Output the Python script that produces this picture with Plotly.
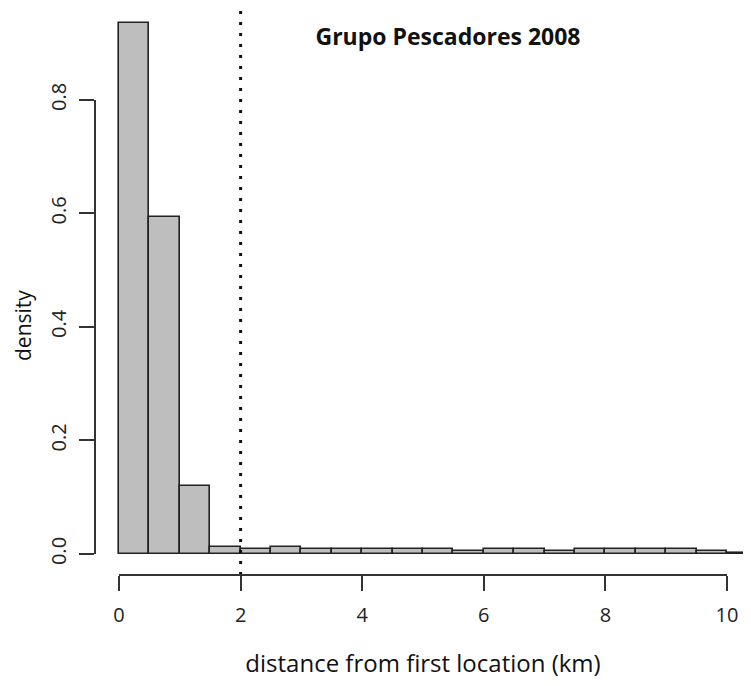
import plotly.graph_objects as go

# Histogramm-Daten (Dichte pro 0.5-km-Klasse)
bin_left = [0.0, 0.5, 1.0, 1.5, 2.0, 2.5, 3.0, 3.5, 4.0, 4.5, 5.0,
            5.5, 6.0, 6.5, 7.0, 7.5, 8.0, 8.5, 9.0, 9.5, 10.0]
density = [0.936, 0.593, 0.120, 0.013, 0.009, 0.013, 0.009, 0.009, 0.009, 0.009, 0.009,
           0.005, 0.009, 0.009, 0.005, 0.009, 0.009, 0.009, 0.009, 0.005, 0.002]
bin_width = 0.5

x_ticks = [0, 2, 4, 6, 8, 10]
y_ticks = [0.0, 0.2, 0.4, 0.6, 0.8]
y_tick_text = ["0.0", "0.2", "0.4", "0.6", "0.8"]
cutoff_km = 2

font_main = "Open Sans"
axis_col = "#333333"

# Seite hat 8px Body-Rand -> Figur etwas kleiner
W, H = 743, 678
ML, MB = 87, 111

fig = go.Figure()
fig.add_trace(go.Bar(
    x=bin_left, y=density, width=bin_width, offset=0,
    marker=dict(color="#bebebe", line=dict(color="#222222", width=1.6)),
    showlegend=False, hoverinfo="x+y"))

# gepunktete Linie bei 2 km
fig.add_shape(type="line", xref="x", yref="paper", x0=cutoff_km, x1=cutoff_km, y0=0, y1=1,
              line=dict(color="#111111", width=3, dash="3px,8px"))

# R-Stil Achsenlinien (nur von erstem bis letztem Tick)
fig.add_shape(type="line", xref="x", yref="paper", x0=x_ticks[0], x1=x_ticks[-1], y0=0, y1=0,
              line=dict(color=axis_col, width=2))
fig.add_shape(type="line", xref="paper", yref="y", x0=0, x1=0, y0=y_ticks[0], y1=y_ticks[-1],
              line=dict(color=axis_col, width=2))

# y-Achsentitel als Annotation
fig.add_annotation(text="density", xref="paper", yref="paper",
                   x=(15 - ML) / (W - ML), y=(H - MB - 318) / (H - MB),
                   textangle=-90, showarrow=False, xanchor="center", yanchor="middle",
                   font=dict(family=font_main, size=21, color="#111111"))

fig.update_layout(
    width=W, height=H,
    margin=dict(l=ML, r=0, t=0, b=MB),
    plot_bgcolor="white", paper_bgcolor="white",
    bargap=0,
    title=dict(text="<b>Grupo Pescadores 2008</b>", xref="container", yref="container",
               x=440 / W, y=1 - 29 / H, xanchor="center", yanchor="middle",
               font=dict(family=font_main, size=23, color="#111111")),
    xaxis=dict(range=[-0.395, 10.395], tickvals=x_ticks, showgrid=False, zeroline=False,
               showline=False, ticks="outside", ticklen=15, tickwidth=2, tickcolor=axis_col,
               ticklabelstandoff=7,
               tickfont=dict(family=font_main, size=20, color="#222222"),
               title=dict(text="distance from first location (km)", standoff=28,
                          font=dict(family=font_main, size=24, color="#111111"))),
    yaxis=dict(range=[-0.037, 0.962], tickvals=y_ticks, ticktext=y_tick_text, tickangle=-90,
               showgrid=False, zeroline=False, showline=False,
               ticks="outside", ticklen=15, tickwidth=2, tickcolor=axis_col,
               ticklabelstandoff=5,
               tickfont=dict(family=font_main, size=20, color="#222222")),
)

fig.write_html("out.html")
